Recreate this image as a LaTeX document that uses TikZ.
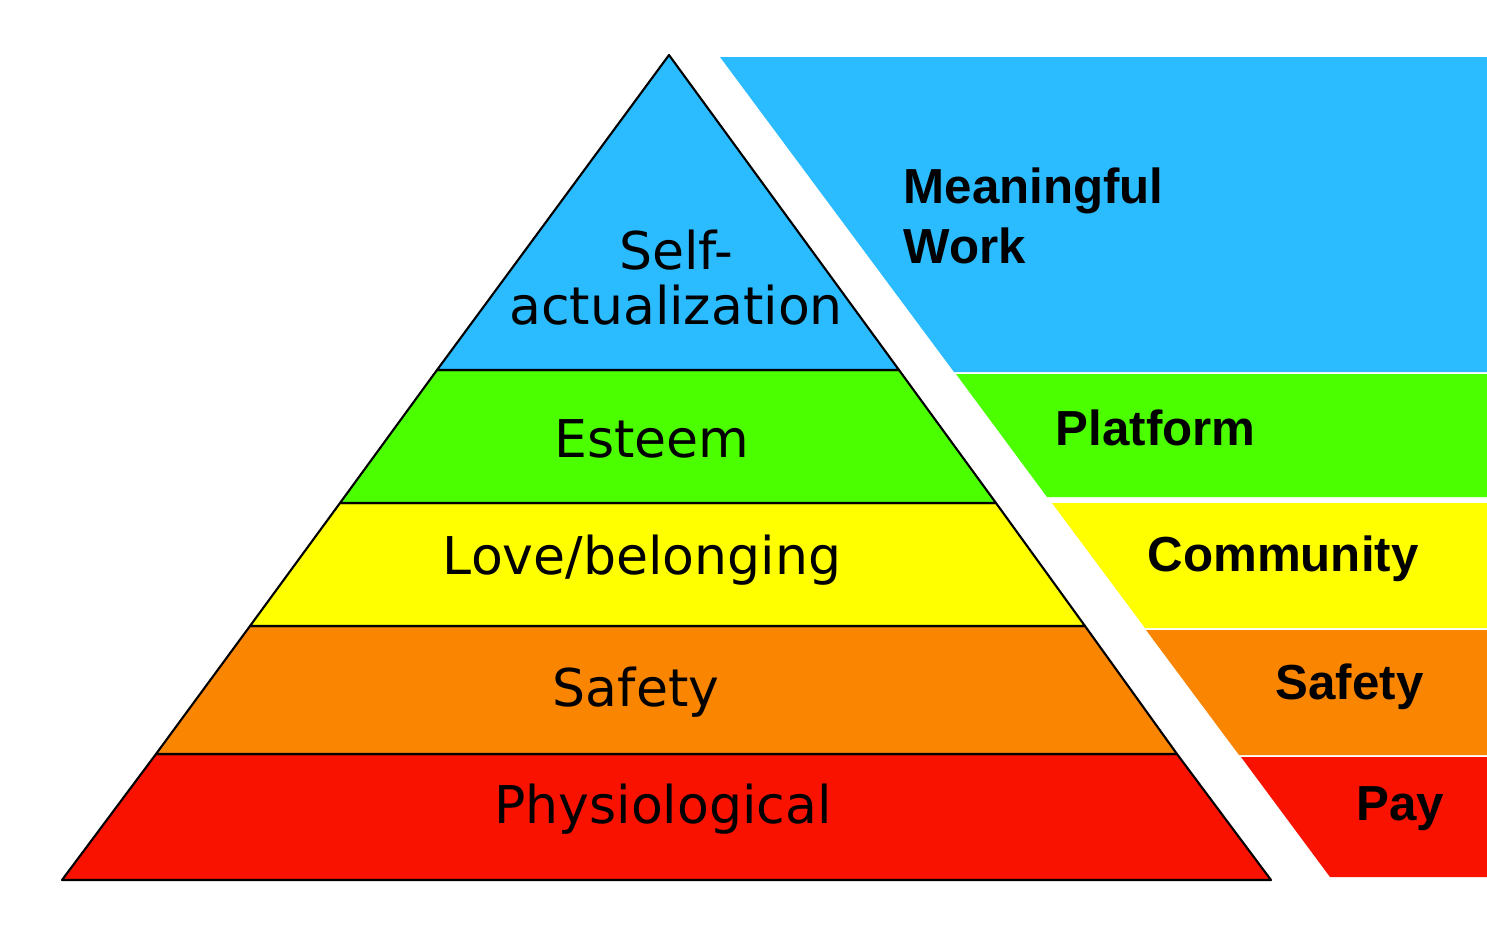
\documentclass[tikz,border=0pt]{standalone}
\usepackage{fontspec}
\setmainfont{DejaVu Sans}
\newfontfamily\boldsans{Liberation Sans}
\definecolor{lvblue}{HTML}{2BBBFF}
\definecolor{lvgreen}{HTML}{4CFF00}
\definecolor{lvyellow}{HTML}{FFFF00}
\definecolor{lvorange}{HTML}{FA8500}
\definecolor{lvred}{HTML}{F91200}
\begin{document}
\begin{tikzpicture}[
        x=0.01cm, y=-0.01cm,
        layer/.style={draw=black, line width=0.6pt, line join=round},
        level/.style={font=\fontsize{14.8}{15.6}\selectfont, align=center},
        need/.style={font=\boldsans\bfseries\fontsize{14}{17}\selectfont, align=left, inner sep=0pt}
        ]
        \useasboundingbox (0,0) rectangle (1487,947);
        % pyramid layers
        \draw[layer, fill=lvred]    (62,880) -- (156,754) -- (1177,754) -- (1271,880) -- cycle;
        \draw[layer, fill=lvorange] (156,754) -- (250,626) -- (1085,626) -- (1177,754) -- cycle;
        \draw[layer, fill=lvyellow] (250,626) -- (340,503) -- (996,503) -- (1085,626) -- cycle;
        \draw[layer, fill=lvgreen]  (340,503) -- (437,370) -- (899,370) -- (996,503) -- cycle;
        \draw[layer, fill=lvblue]   (437,370) -- (669,55) -- (899,370) -- cycle;
        \node[level] (selfact) at (676,278) {Self-\\actualization};
        \node[level] (esteem) at (652,439) {Esteem};
        \node[level] (love) at (642,560) {Love/belonging};
        \node[level] (safety) at (636,692) {Safety};
        \node[level] (physio) at (663,809) {Physiological};
        % work bands
        \fill[lvblue]   (720,57) -- (1487,57) -- (1487,372) -- (954,372) -- cycle;
        \fill[lvgreen]  (956,374) -- (1487,374) -- (1487,497) -- (1047,497) -- cycle;
        \fill[lvyellow] (1052,503) -- (1487,503) -- (1487,628) -- (1145,628) -- cycle;
        \fill[lvorange] (1146,630) -- (1487,630) -- (1487,755) -- (1239,755) -- cycle;
        \fill[lvred]    (1241,757) -- (1487,757) -- (1487,877) -- (1330,877) -- cycle;
        \node[need, anchor=west] (meaning) at (903,216) {Meaningful\\Work};
        \node[need, anchor=west] (platform) at (1055,428) {Platform};
        \node[need, anchor=west] (community) at (1147,559) {Community};
        \node[need, anchor=west] (pay2) at (1275,687) {Safety};
        \node[need, anchor=west] (pay) at (1356,809) {Pay};
\end{tikzpicture}
\end{document}
